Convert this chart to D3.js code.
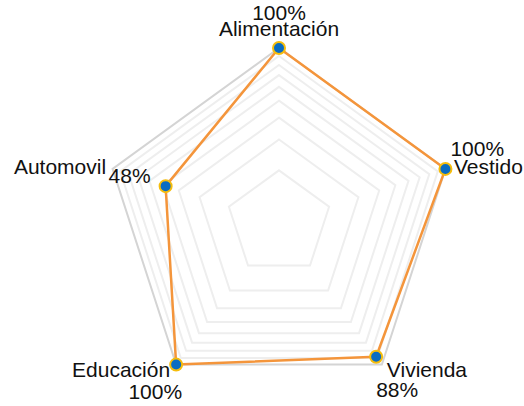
<!DOCTYPE html>
<html>
<head>
<meta charset="utf-8">
<script src="https://cdn.jsdelivr.net/npm/d3@7"></script>
<style>
  html, body { margin: 0; padding: 0; background: #fff; }
  svg { display: block; }
  text { font-family: "Liberation Sans", Arial, Helvetica, sans-serif; font-size: 21px; fill: #111; }
</style>
</head>
<body>
<svg id="chart" width="524" height="406"></svg>
<script>
// Spending categories and their percentages
const categories = ["Alimentación", "Vestido", "Vivienda", "Educación", "Automovil"];
const values = [100, 100, 88, 100, 48];
const valueLabels = ["100%", "100%", "88%", "100%", "48%"];
// Grid rings (log-scaled radial axis)
const gridLevels = [20, 30, 40, 50, 60, 70, 80, 90, 100];

// Label placement per axis: [anchor, dx, dy]
const categoryOffsets = [["middle", 0, -12.5], ["start", 8.5, 5], ["start", 5, 12.5], ["end", -6, 12.5], ["end", -6.5, 5]];
const valueOffsets = [["middle", 0, -28], ["start", 5, -13], ["start", 0, 40], ["end", 6, 34], ["end", -15, -3]];

const width = 524, height = 406;
const cx = 279, cy = 223, R = 175;

const svg = d3.select("#chart");
const g = svg.append("g").attr("transform", `translate(${cx},${cy})`);

const r = d3.scaleLog().domain([10, 100]).range([0, R]);
const angle = d3.scalePoint().domain(d3.range(categories.length + 1)).range([0, 2 * Math.PI]);

const pos = (i, v) => {
  const a = angle(i), rad = r(v);
  return [rad * Math.sin(a), -rad * Math.cos(a)];
};

// Grid pentagons, outermost drawn darker
const ring = d3.line().curve(d3.curveLinearClosed);
g.append("g").selectAll("path")
  .data(gridLevels)
  .join("path")
  .attr("d", lv => ring(categories.map((_, i) => pos(i, lv))))
  .attr("fill", "none")
  .attr("stroke", lv => lv === d3.max(gridLevels) ? "#d4d4d4" : "#eeeeee")
  .attr("stroke-width", 2);

// Data polygon
g.append("path")
  .attr("d", ring(values.map((v, i) => pos(i, v))))
  .attr("fill", "none")
  .attr("stroke", "#f4953b")
  .attr("stroke-width", 2.5)
  .attr("stroke-linejoin", "round");

// Data points
g.append("g").selectAll("circle")
  .data(values)
  .join("circle")
  .attr("cx", (v, i) => pos(i, v)[0])
  .attr("cy", (v, i) => pos(i, v)[1])
  .attr("r", 6)
  .attr("fill", "#0a6cc2")
  .attr("stroke", "#f6bd0c")
  .attr("stroke-width", 2);

// Category labels at the outer ring
const maxLevel = d3.max(gridLevels);
g.append("g").selectAll("text")
  .data(categories)
  .join("text")
  .attr("x", (c, i) => pos(i, maxLevel)[0] + categoryOffsets[i][1])
  .attr("y", (c, i) => pos(i, maxLevel)[1] + categoryOffsets[i][2])
  .attr("text-anchor", (c, i) => categoryOffsets[i][0])
  .text(c => c);

// Value labels near each point
g.append("g").selectAll("text")
  .data(values)
  .join("text")
  .attr("x", (v, i) => pos(i, v)[0] + valueOffsets[i][1])
  .attr("y", (v, i) => pos(i, v)[1] + valueOffsets[i][2])
  .attr("text-anchor", (v, i) => valueOffsets[i][0])
  .text((v, i) => valueLabels[i]);
</script>
</body>
</html>
